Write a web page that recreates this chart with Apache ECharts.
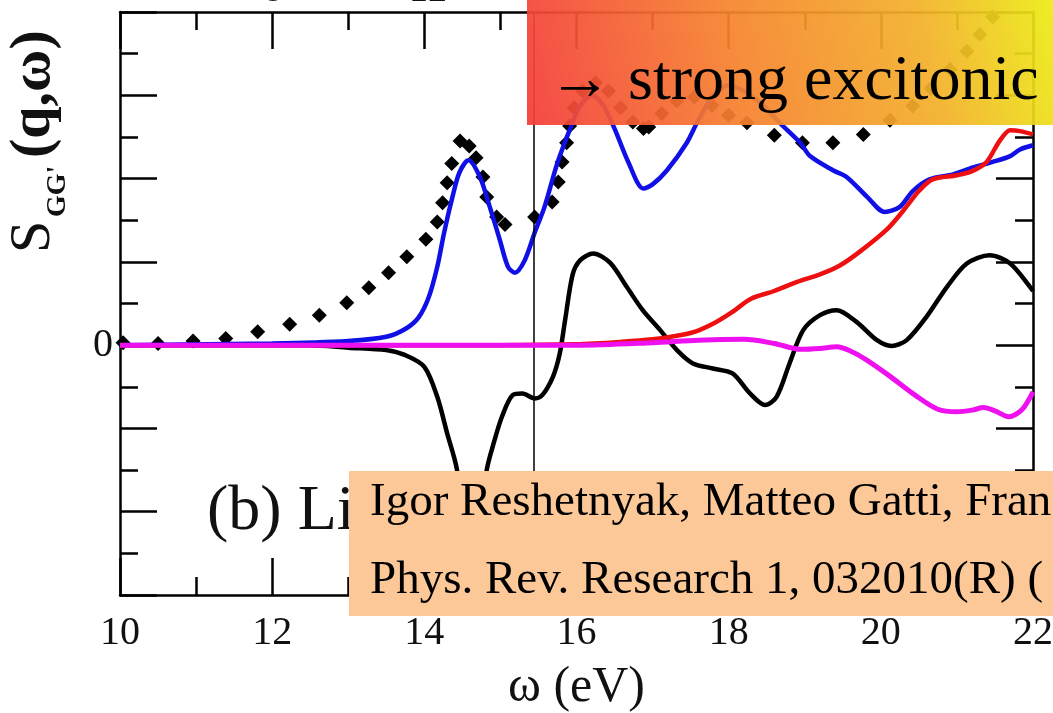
<!DOCTYPE html>
<html><head><meta charset="utf-8">
<script src="https://cdn.jsdelivr.net/npm/echarts@6/dist/echarts.min.js"></script>
<style>html,body{margin:0;padding:0;background:#fff}#c{width:1053px;height:713px}</style>
</head><body><div id="c"></div>
<script>
// ---- data (omega in eV, S in arbitrary units) ----
const xRange = [10, 22];
const yRange = [-3, 4];
const yLabels = {0: '0'};
const verticalLineOmega = 15.44;

const diamondPts = [[10.04,0.03],[10.50,0.02],[10.96,0.05],[11.39,0.08],[11.81,0.16],[12.23,0.25],[12.62,0.36],[12.98,0.51],[13.27,0.69],[13.53,0.87],[13.77,1.06],[14.02,1.27],[14.17,1.48],[14.24,1.71],[14.30,1.95],[14.36,2.18],[14.47,2.45],[14.59,2.39],[14.68,2.25],[14.77,2.02],[14.82,1.78],[14.95,1.54],[15.06,1.45],[15.45,1.54],[15.68,1.72],[15.76,1.96],[15.81,2.20],[15.87,2.43],[15.91,2.63],[15.97,2.85],[16.08,3.05],[16.25,3.15],[16.42,3.05],[16.58,2.85],[16.74,2.68],[16.88,2.60],[16.95,2.62],[17.12,2.78],[17.32,2.93],[17.55,2.98],[17.78,2.88],[18.0,2.76],[18.24,2.67],[18.6,2.52],[18.97,2.43],[19.37,2.43],[19.77,2.53],[20.12,2.70],[20.42,2.87],[20.66,3.08],[20.91,3.31],[21.13,3.53],[21.30,3.73],[21.47,3.94]];

const blueCurve = [[10,0],[12,0.02],[13,0.05],[13.5,0.1],[13.76,0.2],[13.93,0.34],[14.06,0.58],[14.17,0.94],[14.26,1.35],[14.37,1.78],[14.46,2.07],[14.58,2.22],[14.73,2.02],[14.86,1.66],[14.99,1.27],[15.10,0.94],[15.19,0.87],[15.32,1.02],[15.45,1.35],[15.58,1.66],[15.75,2.19],[15.93,2.63],[16.05,2.88],[16.2,3.0],[16.35,2.88],[16.5,2.6],[16.68,2.2],[16.88,1.88],[17.0,1.93],[17.19,2.1],[17.45,2.43],[17.6,2.7],[17.8,3.0],[18.0,3.12],[18.2,3.05],[18.45,2.88],[18.67,2.67],[18.94,2.43],[19.07,2.27],[19.37,2.1],[19.55,2.02],[19.82,1.78],[20.05,1.6],[20.25,1.66],[20.42,1.85],[20.64,1.99],[20.95,2.05],[21.2,2.13],[21.47,2.2],[21.7,2.27],[21.83,2.35],[22.0,2.4]];

const redCurve = [[10,0],[15,0],[16,0.01],[16.6,0.04],[17.0,0.07],[17.3,0.11],[17.55,0.16],[17.8,0.26],[18.05,0.4],[18.3,0.56],[18.6,0.65],[18.9,0.76],[19.2,0.85],[19.45,0.95],[19.72,1.12],[20.08,1.39],[20.3,1.62],[20.5,1.85],[20.68,1.99],[21.0,2.04],[21.2,2.09],[21.39,2.2],[21.56,2.45],[21.7,2.58],[21.83,2.57],[22.0,2.53]];

const blackCurve = [[10,0],[12.5,0],[13.0,-0.03],[13.5,-0.06],[13.75,-0.12],[14.0,-0.26],[14.17,-0.62],[14.3,-1.06],[14.43,-1.5],[14.52,-2.3],[14.62,-2.7],[14.72,-2.3],[14.82,-1.5],[14.92,-1.15],[15.02,-0.86],[15.16,-0.6],[15.29,-0.58],[15.45,-0.64],[15.55,-0.6],[15.69,-0.38],[15.78,-0.1],[15.85,0.3],[15.95,0.85],[16.05,1.02],[16.22,1.1],[16.44,0.99],[16.66,0.7],[16.87,0.42],[17.1,0.18],[17.32,-0.06],[17.53,-0.22],[17.79,-0.28],[18.05,-0.34],[18.28,-0.58],[18.48,-0.72],[18.63,-0.62],[18.8,-0.22],[18.98,0.18],[19.2,0.36],[19.42,0.42],[19.68,0.28],[19.95,0.06],[20.14,-0.01],[20.34,0.06],[20.6,0.34],[20.87,0.7],[21.13,0.98],[21.43,1.08],[21.7,0.98],[21.96,0.7],[22.0,0.65]];

const magentaCurve = [[10,0],[16,0],[17.0,0.03],[17.6,0.06],[18.2,0.07],[18.6,0.02],[18.95,-0.05],[19.2,-0.04],[19.42,-0.02],[19.6,-0.07],[19.8,-0.17],[20.1,-0.36],[20.45,-0.6],[20.75,-0.77],[21.0,-0.8],[21.2,-0.78],[21.35,-0.75],[21.5,-0.79],[21.68,-0.86],[21.85,-0.78],[22.0,-0.56]];

const serif = "'Liberation Serif','Times New Roman',serif";

const chart = echarts.init(document.getElementById('c'), null, {renderer: 'canvas'});

function axisCommon() {
  return {
    axisLine: {show: true, onZero: false, lineStyle: {color: '#000', width: 2.5}},
    axisTick: {show: true, inside: true, length: 37, lineStyle: {color: '#000', width: 2.5}},
    minorTick: {show: true, splitNumber: 2, length: 18, lineStyle: {color: '#000', width: 2.5}},
    splitLine: {show: false},
    minorSplitLine: {show: false}
  };
}

const option = {
  animation: false,
  backgroundColor: '#fff',
  grid: {left: 120, right: 20, top: 12, bottom: 118, containLabel: false, outerBoundsMode: 'none'},
  xAxis: [
    Object.assign({
      type: 'value', min: xRange[0], max: xRange[1], interval: 2, position: 'bottom',
      axisLabel: {show: true, color: '#111', fontFamily: serif, fontSize: 40, margin: 18},
      name: 'ω (eV)', nameLocation: 'middle', nameGap: 68,
      nameTextStyle: {color: '#111', fontFamily: serif, fontSize: 50}
    }, axisCommon()),
    Object.assign({
      type: 'value', min: xRange[0], max: xRange[1], interval: 2, position: 'top',
      axisLabel: {show: false}
    }, axisCommon())
  ],
  yAxis: [
    Object.assign({
      type: 'value', min: yRange[0], max: yRange[1], interval: 1, position: 'left',
      axisLabel: {show: true, color: '#111', fontFamily: serif, fontSize: 40, margin: 7,
        formatter: v => (yLabels[v] !== undefined ? yLabels[v] : '')}
    }, axisCommon()),
    Object.assign({
      type: 'value', min: yRange[0], max: yRange[1], interval: 1, position: 'right',
      axisLabel: {show: false}
    }, axisCommon())
  ],
  series: [
    {
      type: 'scatter', data: diamondPts, symbol: 'diamond', symbolSize: 15,
      itemStyle: {color: '#000', opacity: 1}, z: 2, clip: true, silent: true
    },
    {
      type: 'line', data: blackCurve, smooth: 0.3, showSymbol: false, clip: true,
      lineStyle: {color: '#000', width: 4.5}, z: 3,
      markLine: {
        silent: true, symbol: ['none', 'none'], label: {show: false},
        lineStyle: {color: '#000', width: 1.5, type: 'solid'},
        data: [{xAxis: verticalLineOmega}]
      }
    },
    {type: 'line', data: blueCurve, smooth: 0.3, showSymbol: false, clip: true,
     lineStyle: {color: '#1010e6', width: 4.5}, z: 4},
    {type: 'line', data: redCurve, smooth: 0.3, showSymbol: false, clip: true,
     lineStyle: {color: '#ee1010', width: 4.5}, z: 5},
    {type: 'line', data: magentaCurve, smooth: 0.3, showSymbol: false, clip: true,
     lineStyle: {color: '#ee10ee', width: 5}, z: 6}
  ],
  graphic: [
    {type: 'text', x: 34, y: 253, rotation: Math.PI / 2, z: 10,
     style: {text: 'S', fill: '#111', font: "58px " + serif, align: 'left', verticalAlign: 'middle'}},
    {type: 'text', x: 58, y: 217, rotation: Math.PI / 2, z: 10,
     style: {text: "GG'", fill: '#111', font: "bold 28px " + serif, align: 'left', verticalAlign: 'middle'}},
    {type: 'text', x: 34, y: 158, rotation: Math.PI / 2, z: 10,
     style: {text: '(q,ω)', fill: '#111', font: "bold 58px " + serif, align: 'left', verticalAlign: 'middle'}},
    {type: 'text', x: 273, y: -9, z: 10,
     style: {text: '8', fill: '#111', font: "38px " + serif, align: 'center', verticalAlign: 'middle'}},
    {type: 'text', x: 428, y: -9, z: 10,
     style: {text: '12', fill: '#111', font: "38px " + serif, align: 'center', verticalAlign: 'middle'}},
    {type: 'text', x: 207, y: 512, z: 20,
     style: {text: '(b) Li', fill: '#111', font: "64px " + serif, align: 'left', verticalAlign: 'middle'}},
    {type: 'rect', z: 100, shape: {x: 527, y: 0, width: 526, height: 125},
     style: {opacity: 0.93, fill: {type: 'linear', x: 0, y: 1, x2: 1, y2: 0, colorStops: [
       {offset: 0, color: '#f43c3a'}, {offset: 0.4, color: '#f6822e'},
       {offset: 0.75, color: '#f3b02a'}, {offset: 1, color: '#ecec14'}]}}},
    {type: 'text', x: 548, y: 82, z: 101,
     style: {text: '→ strong excitonic', fill: '#000', font: "64px " + serif, align: 'left', verticalAlign: 'middle'}},
    {type: 'rect', z: 100, shape: {x: 349, y: 471, width: 704, height: 145},
     style: {fill: '#fdc898'}},
    {type: 'text', x: 370, y: 503, z: 101,
     style: {text: 'Igor Reshetnyak, Matteo Gatti, Fran', fill: '#000', font: "47px " + serif, align: 'left', verticalAlign: 'middle'}},
    {type: 'text', x: 370, y: 581, z: 101,
     style: {text: 'Phys. Rev. Research 1, 032010(R) (', fill: '#000', font: "47px " + serif, align: 'left', verticalAlign: 'middle'}}
  ]
};
chart.setOption(option);
</script>
</body></html>
